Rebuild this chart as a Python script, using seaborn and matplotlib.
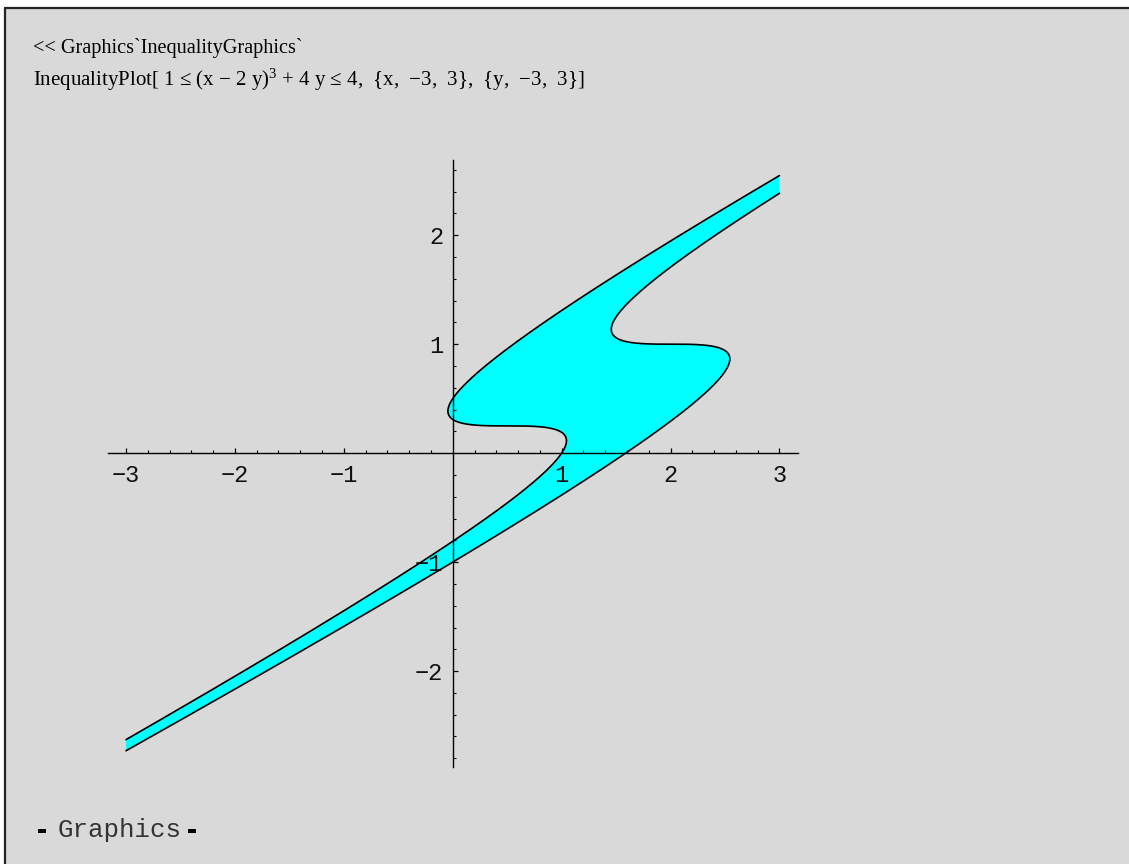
import numpy as np
import pandas as pd
import matplotlib
matplotlib.use("Agg")
import matplotlib.pyplot as plt
from matplotlib.patches import Rectangle
from matplotlib.lines import Line2D
import seaborn as sns

# Inequality  lower <= (x - 2y)^3 + 4y <= upper  over the given x range
bounds = [1, 4]
x_range = [-3, 3]
y_range = [-3, 3]
x_major = [-3, -2, -1, 1, 2, 3]
y_major = [-2, -1, 1, 2]
x_labels = ["\u22123", "\u22122", "\u22121", "1", "2", "3"]
y_labels = ["\u22122", "\u22121", "1", "2"]

input_line1 = "<< Graphics`InequalityGraphics`"
input_line2_a = "InequalityPlot[ 1 \u2264 (x \u2212 2 y)"
input_line2_b = " + 4 y \u2264 4,  {x,  \u22123,  3},  {y,  \u22123,  3}]"
output_line = "Graphics"

sns.set_theme(style="white")
plt.rcParams["font.family"] = ["DejaVu Sans"]
plt.rcParams["mathtext.fontset"] = "custom"
plt.rcParams["mathtext.rm"] = "Liberation Serif"
plt.rcParams["mathtext.default"] = "regular"

W, H = 1129, 864
fig = plt.figure(figsize=(W / 100, H / 100), dpi=100)
fig.patch.set_facecolor("white")

# notebook cell background with its top/left border
bg = "#d9d9d9"
fig.patches.append(Rectangle((5 / W, 0), 1 - 5 / W, 1 - 8 / H,
                             transform=fig.transFigure, facecolor=bg,
                             edgecolor="none", zorder=-10))
fig.lines.append(Line2D([5 / W, 1], [1 - 8 / H, 1 - 8 / H], transform=fig.transFigure,
                        color="#222222", lw=1.6, zorder=-9))
fig.lines.append(Line2D([5 / W, 5 / W], [0, 1 - 8 / H], transform=fig.transFigure,
                        color="#222222", lw=1.6, zorder=-9))

serif = ["Liberation Serif", "DejaVu Serif"]
mono = ["Liberation Mono", "DejaVu Sans Mono"]

fig.text(33 / W, 1 - 48 / H, input_line1, family=serif, fontsize=14.6,
         va="center", ha="left", color="black")
fig.text(33 / W, 1 - 80 / H, input_line2_a + "$^{3}$" + input_line2_b,
         family=serif, fontsize=15, va="center", ha="left", color="black")

# output line
fig.text(58 / W, 1 - 837 / H, output_line, family=mono, fontsize=18.5,
         va="baseline", ha="left", color="#333333")
fig.patches.append(Rectangle((38 / W, 1 - 833 / H), 8 / W, 4 / H,
                             transform=fig.transFigure, facecolor="black", edgecolor="none"))
fig.patches.append(Rectangle((188 / W, 1 - 833 / H), 8 / W, 4 / H,
                             transform=fig.transFigure, facecolor="black", edgecolor="none"))

# plot axes (equal scale, ~109 px per unit)
xl = (-3.165, 3.17)
yl = (-2.88, 2.69)
ax_left, ax_right = 108, 798
ax_top, ax_bottom = 160, 767
ax = fig.add_axes([ax_left / W, 1 - ax_bottom / H, (ax_right - ax_left) / W,
                   (ax_bottom - ax_top) / H])
ax.set_zorder(5)
ax.patch.set_visible(False)
ax.set_axisbelow(False)


def boundary(c):
    # parametrise by u = x - 2y:  y = (c - u^3)/4,  x = u + 2y
    u = np.linspace(-4, 4, 40001)
    y = (c - u ** 3) / 4.0
    x = u + 2 * y
    keep = (x >= x_range[0]) & (x <= x_range[1]) & (y >= y_range[0]) & (y <= y_range[1])
    return x[keep], y[keep]


x_lo, y_lo = boundary(bounds[0])
x_hi, y_hi = boundary(bounds[1])

# shaded region between the two level curves
poly_x = np.concatenate([x_lo, x_hi[::-1]])
poly_y = np.concatenate([y_lo, y_hi[::-1]])
ax.fill(poly_x, poly_y, color="#00ffff", lw=0, zorder=2)

for xs, ys in [(x_lo, y_lo), (x_hi, y_hi)]:
    df = pd.DataFrame({"x": xs, "y": ys})
    sns.lineplot(data=df, x="x", y="y", sort=False, estimator=None,
                 color="black", lw=1.2, ax=ax, zorder=3)

ax.set_xlim(*xl)
ax.set_ylim(*yl)
ax.set_xlabel("")
ax.set_ylabel("")

for s in ["top", "right"]:
    ax.spines[s].set_visible(False)
ax.spines["left"].set_position(("data", 0))
ax.spines["bottom"].set_position(("data", 0))
for s in ["left", "bottom"]:
    ax.spines[s].set_color("black")
    ax.spines[s].set_linewidth(1.0)
    ax.spines[s].set_zorder(2.5)

ax.set_xticks(x_major)
ax.set_xticklabels(x_labels)
ax.set_yticks(y_major)
ax.set_yticklabels(y_labels)
xminor = [v / 5 for v in range(-15, 16) if v % 5 != 0]
yminor = [v / 5 for v in range(-14, 14) if v % 5 != 0]
ax.set_xticks(xminor, minor=True)
ax.set_yticks(yminor, minor=True)

ax.tick_params(bottom=True, left=True, top=False, right=False, which="both")
ax.tick_params(axis="both", which="major", direction="in", length=3.8, width=0.9,
               color="black", labelsize=17, labelcolor="#111111")
ax.tick_params(axis="both", which="minor", direction="in", length=2.2, width=0.8,
               color="black")
ax.tick_params(axis="x", which="major", pad=8)
ax.tick_params(axis="y", which="major", pad=7)
for lab in ax.get_xticklabels() + ax.get_yticklabels():
    lab.set_family(mono)

fig.savefig("out.png", dpi=100, facecolor=fig.get_facecolor())
